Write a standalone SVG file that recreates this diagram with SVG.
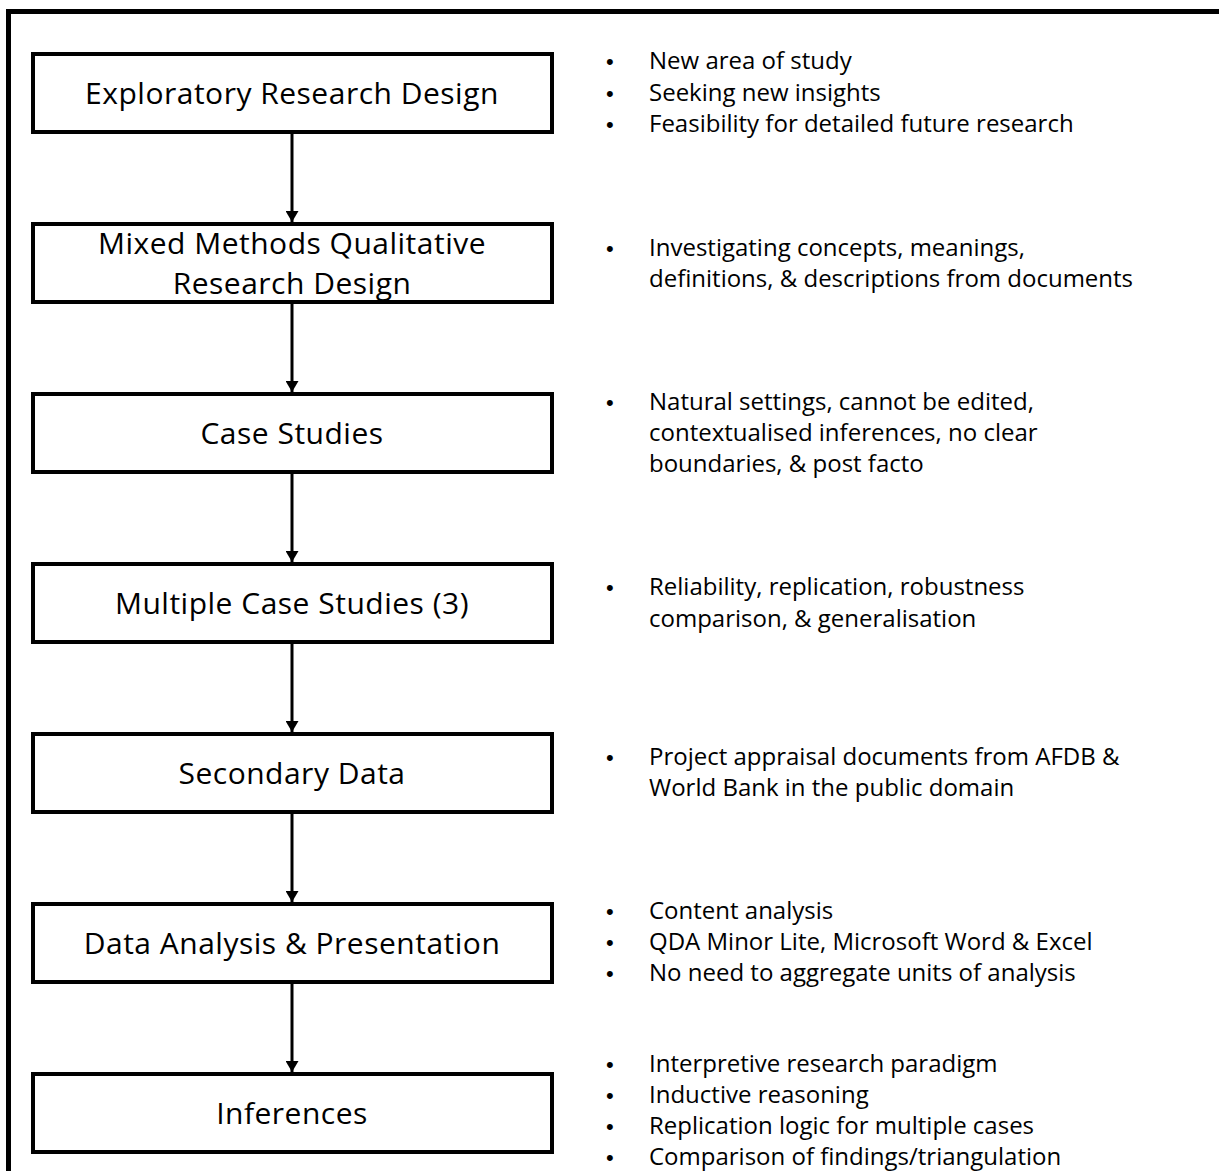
<svg xmlns="http://www.w3.org/2000/svg" width="1219" height="1171" viewBox="0 0 1219 1171">
  <style>
    .box { fill: #ffffff; stroke: #000000; stroke-width: 4; }
    .lbl { font-family: "Open Sans", "Liberation Sans", sans-serif; font-size: 30px; letter-spacing: 0.5px; fill: #000000; text-anchor: middle; }
    .txt { font-family: "Open Sans", "Liberation Sans", sans-serif; font-size: 24px; fill: #000000; }
    .bul { font-family: "Liberation Sans", sans-serif; font-size: 22px; fill: #000000; }
    .conn { stroke: #000000; stroke-width: 3; fill: none; marker-end: url(#arr); }
  </style>
  <defs>
    <marker id="arr" markerUnits="userSpaceOnUse" viewBox="0 0 11 13" refX="11" refY="6.5" markerWidth="11" markerHeight="13" orient="auto">
      <path d="M0,0 L11,6.5 L0,13 Z" fill="#000000"/>
    </marker>
  </defs>
  <rect x="0" y="0" width="1219" height="1171" fill="#ffffff"/>
  <rect x="8.5" y="11.5" width="1230" height="1200" fill="none" stroke="#000000" stroke-width="5"/>

  <g id="connectors">
    <line class="conn" x1="292" y1="134" x2="292" y2="222"/>
    <line class="conn" x1="292" y1="304" x2="292" y2="392"/>
    <line class="conn" x1="292" y1="474" x2="292" y2="562"/>
    <line class="conn" x1="292" y1="644" x2="292" y2="732"/>
    <line class="conn" x1="292" y1="814" x2="292" y2="902"/>
    <line class="conn" x1="292" y1="984" x2="292" y2="1072"/>
  </g>

  <g id="node1">
    <rect class="box" x="33" y="54" width="519" height="78"/>
    <text class="lbl" x="292" y="104">Exploratory Research Design</text>
  </g>
  <g id="node2">
    <rect class="box" x="33" y="224" width="519" height="78"/>
    <text class="lbl" x="292" y="254">Mixed Methods Qualitative</text>
    <text class="lbl" x="292" y="294">Research Design</text>
  </g>
  <g id="node3">
    <rect class="box" x="33" y="394" width="519" height="78"/>
    <text class="lbl" x="292" y="444">Case Studies</text>
  </g>
  <g id="node4">
    <rect class="box" x="33" y="564" width="519" height="78"/>
    <text class="lbl" x="292" y="614">Multiple Case Studies (3)</text>
  </g>
  <g id="node5">
    <rect class="box" x="33" y="734" width="519" height="78"/>
    <text class="lbl" x="292" y="784">Secondary Data</text>
  </g>
  <g id="node6">
    <rect class="box" x="33" y="904" width="519" height="78"/>
    <text class="lbl" x="292" y="954">Data Analysis &amp; Presentation</text>
  </g>
  <g id="node7">
    <rect class="box" x="33" y="1074" width="519" height="78"/>
    <text class="lbl" x="292" y="1124">Inferences</text>
  </g>

  <g id="notes1">
    <text class="bul" x="606" y="69">•</text><text class="txt" x="649" y="69">New area of study</text>
    <text class="bul" x="606" y="101">•</text><text class="txt" x="649" y="101">Seeking new insights</text>
    <text class="bul" x="606" y="132">•</text><text class="txt" x="649" y="132">Feasibility for detailed future research</text>
  </g>
  <g id="notes2">
    <text class="bul" x="606" y="256">•</text><text class="txt" x="649" y="256">Investigating concepts, meanings,</text>
    <text class="txt" x="649" y="287">definitions, &amp; descriptions from documents</text>
  </g>
  <g id="notes3">
    <text class="bul" x="606" y="410">•</text><text class="txt" x="649" y="410">Natural settings, cannot be edited,</text>
    <text class="txt" x="649" y="441">contextualised inferences, no clear</text>
    <text class="txt" x="649" y="472">boundaries, &amp; post facto</text>
  </g>
  <g id="notes4">
    <text class="bul" x="606" y="595">•</text><text class="txt" x="649" y="595">Reliability, replication, robustness</text>
    <text class="txt" x="649" y="627">comparison, &amp; generalisation</text>
  </g>
  <g id="notes5">
    <text class="bul" x="606" y="765">•</text><text class="txt" x="649" y="765">Project appraisal documents from AFDB &amp;</text>
    <text class="txt" x="649" y="796">World Bank in the public domain</text>
  </g>
  <g id="notes6">
    <text class="bul" x="606" y="919">•</text><text class="txt" x="649" y="919">Content analysis</text>
    <text class="bul" x="606" y="950">•</text><text class="txt" x="649" y="950">QDA Minor Lite, Microsoft Word &amp; Excel</text>
    <text class="bul" x="606" y="981">•</text><text class="txt" x="649" y="981">No need to aggregate units of analysis</text>
  </g>
  <g id="notes7">
    <text class="bul" x="606" y="1072">•</text><text class="txt" x="649" y="1072">Interpretive research paradigm</text>
    <text class="bul" x="606" y="1103">•</text><text class="txt" x="649" y="1103">Inductive reasoning</text>
    <text class="bul" x="606" y="1134">•</text><text class="txt" x="649" y="1134">Replication logic for multiple cases</text>
    <text class="bul" x="606" y="1165">•</text><text class="txt" x="649" y="1165">Comparison of findings/triangulation</text>
  </g>
</svg>
